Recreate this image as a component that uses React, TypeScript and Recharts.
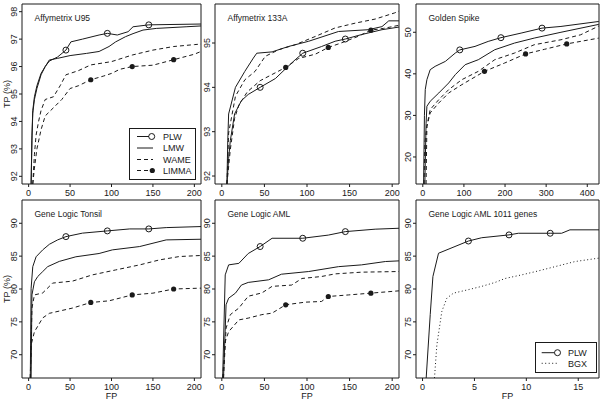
import React from "react";
import { LineChart, Line, XAxis, YAxis, ReferenceArea } from "recharts";

type Pt = [number, number];

const FONT = '"Liberation Sans", Arial, Helvetica, sans-serif';
const INK = "#1a1a1a";

// tick labels
const xTicks200 = [0, 50, 100, 150, 200];
const xTicks400 = [0, 100, 200, 300, 400];
const xTicks15 = [0, 5, 10, 15];
const yTicksU95 = [92, 93, 94, 95, 96, 97, 98];
const yTicks133 = [92, 93, 94, 95];
const yTicksGS = [20, 30, 40, 50];
const yTicksGL = [70, 75, 80, 85, 90];

// where the symbols sit on each curve
const plwMarks = [45, 95, 145];
const limmaMarks = [75, 125, 175];
const gsPlwMarks = [90, 190, 290];
const gsLimmaMarks = [150, 250, 350];
const amlSubMarks = [4.42, 8.33, 12.3];

// Affymetrix U95
const u95Plw: Pt[] = [[3, 91.72], [4, 93.5], [5, 94.4], [7, 94.9], [10, 95.3], [15, 95.75], [20, 96.0], [25, 96.2], [35, 96.35], [45, 96.6], [51, 96.9], [65, 97.0], [85, 97.15], [95, 97.21], [107, 97.15], [120, 97.27], [126, 97.45], [145, 97.52], [208, 97.55]];
const u95Lmw: Pt[] = [[3, 91.72], [4, 93.3], [5, 94.3], [7, 94.8], [10, 95.2], [15, 95.7], [20, 96.0], [25, 96.24], [35, 96.3], [50, 96.4], [70, 96.48], [85, 96.55], [97, 96.73], [105, 96.9], [117, 97.09], [126, 97.2], [138, 97.33], [154, 97.39], [190, 97.45], [208, 97.48]];
const u95Wame: Pt[] = [[5, 91.72], [7, 92.8], [9, 93.5], [12, 94.0], [15, 94.4], [20, 94.8], [30, 94.9], [38, 95.3], [45, 95.7], [60, 95.85], [75, 96.06], [100, 96.18], [125, 96.42], [150, 96.6], [175, 96.73], [200, 96.8], [208, 96.82]];
const u95Limma: Pt[] = [[5, 91.72], [7, 92.3], [10, 93.0], [15, 93.7], [20, 94.2], [30, 94.5], [40, 94.8], [45, 95.0], [50, 95.2], [60, 95.3], [75, 95.52], [90, 95.65], [100, 95.75], [110, 95.9], [125, 96.0], [150, 96.05], [175, 96.25], [200, 96.45], [208, 96.55]];

// Affymetrix 133A
const a133Plw: Pt[] = [[6, 91.82], [8, 92.4], [10, 92.8], [15, 93.4], [23, 93.7], [31, 93.84], [45, 94.0], [63, 94.2], [76, 94.44], [86, 94.62], [95, 94.77], [117, 94.92], [133, 95.04], [145, 95.09], [164, 95.19], [188, 95.3], [208, 95.36]];
const a133Lmw: Pt[] = [[6, 91.82], [7, 92.8], [8, 93.4], [16, 94.0], [27, 94.36], [37, 94.66], [41, 94.77], [59, 94.8], [78, 94.92], [102, 95.04], [137, 95.26], [172, 95.3], [188, 95.37], [196, 95.5], [208, 95.5]];
const a133Wame: Pt[] = [[6, 91.82], [8, 92.97], [16, 93.8], [27, 94.17], [39, 94.36], [51, 94.7], [67, 94.85], [86, 94.96], [110, 95.15], [133, 95.34], [157, 95.45], [180, 95.54], [203, 95.68], [208, 95.72]];
const a133Limma: Pt[] = [[6, 91.82], [10, 92.6], [15, 93.3], [20, 93.6], [30, 93.9], [45, 94.15], [60, 94.3], [75, 94.45], [90, 94.65], [100, 94.7], [110, 94.75], [125, 94.9], [140, 95.0], [160, 95.15], [175, 95.29], [190, 95.33], [208, 95.4]];

// Golden Spike
const gsPlw: Pt[] = [[2, 13.5], [4, 30], [6, 36.2], [10, 38.6], [18, 41], [30, 41.8], [55, 43], [79, 45], [90, 45.76], [127, 46.6], [159, 47.8], [190, 48.7], [239, 49.8], [290, 51.0], [336, 51.4], [428, 52.6]];
const gsLmw: Pt[] = [[5, 13.5], [8, 28], [10, 32.2], [18, 33.4], [39, 35.4], [63, 37.8], [79, 39.8], [103, 42.2], [135, 43.4], [175, 45.8], [223, 47.4], [271, 48.6], [336, 50], [428, 51.9]];
const gsWame: Pt[] = [[8, 13.5], [10, 27.4], [18, 31.4], [39, 33.8], [63, 36.2], [95, 38.6], [135, 40.6], [175, 43.4], [223, 45], [271, 47], [336, 48.2], [384, 49.4], [428, 51.5]];
const gsLimma: Pt[] = [[3, 13.5], [5, 23.4], [10, 27.4], [18, 30.6], [39, 33], [63, 35.4], [95, 37.4], [150, 40.6], [199, 42.6], [250, 44.8], [296, 45.9], [350, 47.2], [428, 48.6]];

// Gene Logic Tonsil
const tonPlw: Pt[] = [[2, 66.46], [3, 80.1], [5, 83.4], [9, 84.9], [17, 85.95], [25, 86.8], [35, 87.47], [45, 87.97], [65, 88.5], [95, 88.84], [122, 89.14], [145, 89.14], [166, 89.34], [208, 89.5]];
const tonLmw: Pt[] = [[3, 66.46], [4, 79.1], [7, 81.1], [11, 81.9], [17, 82.65], [23, 83.4], [37, 84.2], [57, 84.9], [85, 85.4], [101, 85.95], [134, 86.46], [166, 87.47], [208, 87.57]];
const tonWame: Pt[] = [[2, 66.46], [4, 77.1], [7, 79.1], [17, 79.4], [29, 80.9], [53, 81.2], [77, 82.15], [105, 82.9], [134, 83.67], [158, 84.43], [182, 84.94], [208, 85.1]];
const tonLimma: Pt[] = [[2, 66.46], [3, 71.5], [7, 73.5], [17, 75.6], [25, 76.3], [53, 77.1], [75, 77.95], [97, 78.2], [125, 79.1], [150, 79.37], [175, 80.0], [208, 80.13]];

// Gene Logic AML
const amlPlw: Pt[] = [[1, 66.46], [4, 82.15], [8, 83.67], [20, 83.9], [31, 85.4], [45, 86.46], [59, 87.72], [95, 87.72], [125, 88.2], [145, 88.73], [180, 89.1], [208, 89.24]];
const amlLmw: Pt[] = [[2, 66.46], [5, 77.6], [8, 78.6], [16, 79.37], [23, 80.6], [31, 81.0], [55, 81.4], [70, 82.25], [102, 82.66], [137, 83.4], [164, 83.67], [192, 84.18], [208, 84.28]];
const amlWame: Pt[] = [[2, 66.46], [5, 74.05], [10, 76.1], [20, 77.1], [31, 78.9], [47, 79.4], [59, 80.4], [82, 80.6], [94, 81.6], [117, 81.9], [133, 82.3], [164, 82.56], [208, 82.66]];
const amlLimma: Pt[] = [[1, 66.46], [4, 72.0], [8, 73.5], [20, 75.3], [31, 75.57], [47, 76.1], [59, 76.33], [75, 77.6], [98, 78.0], [117, 78.1], [125, 78.86], [149, 79.1], [175, 79.37], [208, 79.72]];

// Gene Logic AML 1011 genes
const subPlw: Pt[] = [[0.35, 66.46], [0.74, 76.1], [1.0, 81.9], [1.54, 85.44], [4.42, 87.3], [5.7, 87.8], [8.33, 88.23], [9.23, 88.48], [12.3, 88.48], [13.4, 88.48], [14.2, 89.0], [17, 89.0]];
const subBgx: Pt[] = [[1.15, 66.46], [1.38, 71.5], [1.86, 76.6], [2.34, 78.6], [2.98, 79.37], [4.42, 79.9], [5.7, 80.4], [6.99, 81.0], [7.95, 81.6], [9.55, 82.15], [11.15, 82.75], [12.76, 83.4], [14.7, 84.18], [17, 84.7]];

type Series = { pts: Pt[]; marks?: number[]; dash?: string; dot?: "open" | "filled" };
type PanelDef = {
  title: string;
  l: number; t: number; w: number; h: number;
  xDomain: [number, number]; xTicks: number[];
  yDomain: [number, number]; yTicks: number[];
  series: Series[];
};

const DASH = "4 3";
const DOTS = "1 2.5";

const four = (plw: Pt[], lmw: Pt[], wame: Pt[], limma: Pt[], pm = plwMarks, lm = limmaMarks): Series[] => [
  { pts: plw, marks: pm, dot: "open" },
  { pts: lmw },
  { pts: wame, dash: DASH },
  { pts: limma, marks: lm, dash: DASH, dot: "filled" },
];

const panels: PanelDef[] = [
  { title: "Affymetrix U95", l: 22, t: 4, w: 179, h: 180, xDomain: [-8, 208], xTicks: xTicks200, yDomain: [91.72, 98.28], yTicks: yTicksU95, series: four(u95Plw, u95Lmw, u95Wame, u95Limma) },
  { title: "Affymetrix 133A", l: 215, t: 4, w: 184, h: 180, xDomain: [-8, 208], xTicks: xTicks200, yDomain: [91.82, 95.88], yTicks: yTicks133, series: four(a133Plw, a133Lmw, a133Wame, a133Limma) },
  { title: "Golden Spike", l: 416, t: 4, w: 183, h: 180, xDomain: [-16.5, 428.5], xTicks: xTicks400, yDomain: [13.5, 56.8], yTicks: yTicksGS, series: four(gsPlw, gsLmw, gsWame, gsLimma, gsPlwMarks, gsLimmaMarks) },
  { title: "Gene Logic Tonsil", l: 22, t: 200, w: 179, h: 178, xDomain: [-8, 208], xTicks: xTicks200, yDomain: [66.46, 93.54], yTicks: yTicksGL, series: four(tonPlw, tonLmw, tonWame, tonLimma) },
  { title: "Gene Logic AML", l: 215, t: 200, w: 184, h: 178, xDomain: [-8, 208], xTicks: xTicks200, yDomain: [66.46, 93.54], yTicks: yTicksGL, series: four(amlPlw, amlLmw, amlWame, amlLimma) },
  {
    title: "Gene Logic AML 1011 genes", l: 416, t: 200, w: 183, h: 178, xDomain: [-0.63, 17.0], xTicks: xTicks15, yDomain: [66.46, 93.54], yTicks: yTicksGL,
    series: [{ pts: subPlw, marks: amlSubMarks, dot: "open" }, { pts: subBgx, dash: DOTS }],
  },
];

const YTick = (p: any) => (
  <text
    x={p.x}
    y={p.y}
    transform={`rotate(-90 ${p.x} ${p.y})`}
    textAnchor="middle"
    fontSize={9}
    fill={INK}
    fontFamily={FONT}
  >
    {p.payload.value}
  </text>
);

const makeDot = (kind: "open" | "filled") => (p: any) => {
  if (!p.payload || !p.payload.m) return <g key={p.index} />;
  return kind === "open" ? (
    <circle key={p.index} cx={p.cx} cy={p.cy} r={3} fill="none" stroke={INK} strokeWidth={1} />
  ) : (
    <circle key={p.index} cx={p.cx} cy={p.cy} r={2.6} fill={INK} stroke="none" />
  );
};

function Panel({ def }: { def: PanelDef }) {
  const { l, t, w, h } = def;
  return (
    <div style={{ position: "absolute", left: l - 22, top: t - 2 }}>
      <LineChart width={w + 23} height={h + 22} margin={{ top: 2, right: 1, bottom: 0, left: 0 }}>
        <XAxis
          type="number"
          dataKey="x"
          domain={def.xDomain}
          ticks={def.xTicks}
          allowDataOverflow
          interval={0}
          axisLine={false}
          tickSize={3}
          tickMargin={3}
          height={20}
          tick={{ fontSize: 9, fill: INK, fontFamily: FONT }}
          tickLine={{ stroke: INK }}
        />
        <YAxis
          type="number"
          dataKey="y"
          domain={def.yDomain}
          ticks={def.yTicks}
          allowDataOverflow
          interval={0}
          axisLine={false}
          tickSize={3}
          tickMargin={2}
          width={22}
          tick={YTick}
          tickLine={{ stroke: INK }}
        />
        {def.series.map((s, i) => (
          <Line
            key={i}
            data={s.pts.map(([x, y]) => ({ x, y, m: s.marks ? s.marks.includes(x) : false }))}
            dataKey="y"
            type="linear"
            stroke={INK}
            strokeWidth={1}
            strokeDasharray={s.dash}
            dot={s.dot ? makeDot(s.dot) : false}
            activeDot={false}
            isAnimationActive={false}
          />
        ))}
        <ReferenceArea
          x1={def.xDomain[0]}
          x2={def.xDomain[1]}
          y1={def.yDomain[0]}
          y2={def.yDomain[1]}
          fill="none"
          stroke={INK}
          strokeWidth={1}
        />
      </LineChart>
    </div>
  );
}

export default function App() {
  return (
    <div style={{ position: "absolute", left: 0, top: 0, width: 600, height: 401, background: "#fff", overflow: "hidden" }}>
      {panels.map((p, i) => (
        <Panel key={i} def={p} />
      ))}
      <svg width={600} height={401} style={{ position: "absolute", left: 0, top: 0, pointerEvents: "none" }} fontFamily={FONT} fill={INK}>
        {panels.map((p, i) => (
          <text key={i} x={p.l + 12.5} y={p.t + 16.5} fontSize={8.5}>
            {p.title}
          </text>
        ))}
        <text x={10} y={94} transform="rotate(-90 10 94)" textAnchor="middle" fontSize={9}>TP (%)</text>
        <text x={10} y={289} transform="rotate(-90 10 289)" textAnchor="middle" fontSize={9}>TP (%)</text>
        <text x={111.5} y={399} textAnchor="middle" fontSize={9}>FP</text>
        <text x={307} y={399} textAnchor="middle" fontSize={9}>FP</text>
        <text x={507.5} y={399} textAnchor="middle" fontSize={9}>FP</text>

        {/* legend, first panel */}
        <rect x={129.5} y={128.5} width={66} height={51} fill="#fff" stroke={INK} />
        <line x1={137} y1={136.5} x2={149} y2={136.5} stroke={INK} />
        <circle cx={151.7} cy={136.5} r={3} fill="none" stroke={INK} />
        <line x1={137} y1={148} x2={153} y2={148} stroke={INK} />
        <line x1={137} y1={159.5} x2={153} y2={159.5} stroke={INK} strokeDasharray={DASH} />
        <line x1={137} y1={170.5} x2={152} y2={170.5} stroke={INK} strokeDasharray={DASH} />
        <circle cx={152.3} cy={170.5} r={2.6} fill={INK} />
        <text x={163} y={139.7} fontSize={9}>PLW</text>
        <text x={163} y={151.2} fontSize={9}>LMW</text>
        <text x={163} y={162.7} fontSize={9}>WAME</text>
        <text x={163} y={173.7} fontSize={9}>LIMMA</text>

        {/* legend, last panel */}
        <rect x={535.5} y={342.5} width={61} height={30} fill="#fff" stroke={INK} />
        <line x1={541.7} y1={352.7} x2={554.5} y2={352.7} stroke={INK} />
        <circle cx={557.5} cy={352.7} r={3} fill="none" stroke={INK} />
        <line x1={541.7} y1={363.3} x2={558} y2={363.3} stroke={INK} strokeDasharray={DOTS} />
        <text x={568} y={355.9} fontSize={9}>PLW</text>
        <text x={568} y={366.5} fontSize={9}>BGX</text>
      </svg>
    </div>
  );
}
